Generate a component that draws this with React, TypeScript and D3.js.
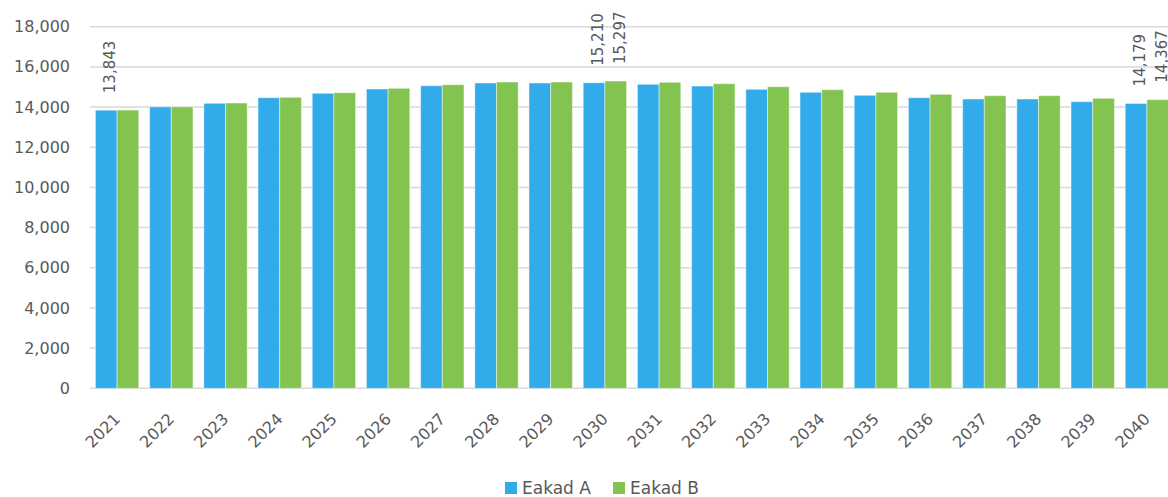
import React from "react";
import * as d3 from "d3";

const years = ["2021","2022","2023","2024","2025","2026","2027","2028","2029","2030","2031","2032","2033","2034","2035","2036","2037","2038","2039","2040"];
const seriesA = [13843,14010,14186,14465,14684,14898,15062,15197,15197,15210,15132,15047,14883,14734,14584,14465,14400,14400,14266,14179];
const seriesB = [13850,14010,14201,14485,14714,14933,15112,15246,15246,15297,15231,15162,15012,14863,14734,14634,14565,14565,14435,14367];
const seriesNames = ["Eakad A","Eakad B"];
const yTicks = [0,2000,4000,6000,8000,10000,12000,14000,16000,18000];
const labeledYears = ["2021","2030","2040"];

const W = 1168, H = 497;
const FONT = "'DejaVu Sans', sans-serif";
const TEXT = "#595959";
const COLORS = ["#32abeb", "#83c34f"];

export default function App() {
  const x = d3.scaleBand<string>().domain(years).range([90, 1174]).paddingInner(0.2).paddingOuter(0.1);
  const sub = d3.scaleBand<number>().domain([0, 1]).range([0, x.bandwidth()]);
  const y = d3.scaleLinear().domain([0, 18000]).range([388.3, 26.7]);
  const fmt = d3.format(",");
  const data = [seriesA, seriesB];

  return (
    <svg width={W} height={H} style={{ position: "absolute", left: 0, top: 0, background: "#fff" }} fontFamily={FONT}>
      {yTicks.map((t) => (
        <g key={t}>
          <line x1={90} x2={W} y1={y(t)} y2={y(t)} stroke="#d9d9d9" strokeWidth={1.5} />
          <text x={70} y={y(t)} dy="0.35em" textAnchor="end" fontSize={16} fill={TEXT}>{fmt(t)}</text>
        </g>
      ))}
      {data.map((s, si) =>
        s.map((v, i) => {
          const bx = (x(years[i]) as number) + (sub(si) as number);
          return (
            <rect key={`${si}-${i}`} x={bx} y={y(v)} width={sub.bandwidth()} height={y(0) - y(v)}
              fill={COLORS[si]} stroke="#ffffff" strokeOpacity={0.45} strokeWidth={1} />
          );
        })
      )}
      {data.map((s, si) =>
        s.map((v, i) => {
          if (!labeledYears.includes(years[i])) return null;
          if (years[i] === "2021" && si === 1) return null;
          const cx = (x(years[i]) as number) + (sub(si) as number) + sub.bandwidth() / 2;
          return (
            <text key={`l${si}-${i}`} transform={`translate(${cx + 9},${y(v) - 17}) rotate(-90)`}
              fontSize={15} fill={TEXT} textAnchor="start">{fmt(v)}</text>
          );
        })
      )}
      {years.map((yr) => {
        const cx = (x(yr) as number) + x.bandwidth() / 2;
        return (
          <text key={yr} transform={`translate(${cx + 4},420) rotate(-45)`} textAnchor="end" fontSize={16} fill={TEXT}>{yr}</text>
        );
      })}
      {seriesNames.map((n, i) => {
        const lx = [505, 613][i];
        return (
          <g key={n}>
            <rect x={lx} y={482} width={12} height={12} fill={COLORS[i]} />
            <text x={lx + 17} y={488} dy="0.35em" fontSize={17} fill={TEXT}>{n}</text>
          </g>
        );
      })}
    </svg>
  );
}
